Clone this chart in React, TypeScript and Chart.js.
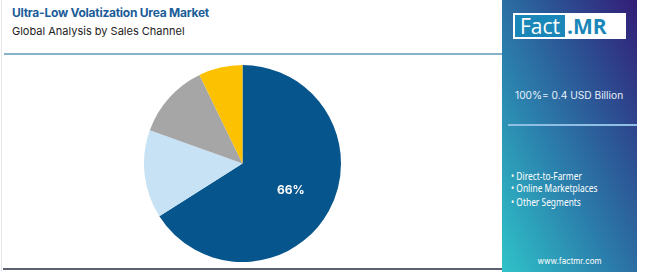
import React, { useEffect, useRef } from "react";
import { Chart, registerables } from "chart.js";

Chart.register(...registerables);

const categories = ["Direct-to-Farmer", "Online Marketplaces", "Other Segments", "Others"];
const shares = [66, 14.5, 12.3, 7.2];
const sliceColors = ["#06558d", "#c6e2f4", "#a6a6a6", "#fcc100"];
const legendItems = ["Direct-to-Farmer", "Online Marketplaces", "Other Segments"];
const titleText = "Ultra-Low Volatization Urea Market";
const subtitleText = "Global Analysis by Sales Channel";
const totalText = "100%= 0.4 USD Billion";
const siteText = "www.factmr.com";
const labelThreshold = 20;

const labelPlugin = {
  id: "sliceLabels",
  afterDatasetsDraw(chart: any) {
    const ctx = chart.ctx;
    const meta = chart.getDatasetMeta(0);
    const data = chart.data.datasets[0].data as number[];
    meta.data.forEach((arc: any, i: number) => {
      if (data[i] < labelThreshold) return;
      const p = arc.getProps(["x", "y", "startAngle", "endAngle", "outerRadius"], true);
      const mid = (p.startAngle + p.endAngle) / 2;
      const r = p.outerRadius * 0.56;
      ctx.save();
      ctx.fillStyle = "#ffffff";
      ctx.font = "bold 12px Inter, 'Open Sans', sans-serif";
      ctx.textAlign = "center";
      ctx.textBaseline = "middle";
      ctx.fillText(Math.round(data[i]) + "%", p.x + Math.cos(mid) * r, p.y + Math.sin(mid) * r);
      ctx.restore();
    });
  },
};

function PieChart() {
  const ref = useRef<HTMLCanvasElement | null>(null);
  useEffect(() => {
    if (!ref.current) return;
    const chart = new Chart(ref.current, {
      type: "pie",
      data: {
        labels: categories,
        datasets: [
          {
            data: shares,
            backgroundColor: sliceColors,
            borderWidth: 0,
          },
        ],
      },
      options: {
        animation: false,
        responsive: false,
        layout: { padding: 0 },
        plugins: { legend: { display: false }, tooltip: { enabled: false } },
      },
      plugins: [labelPlugin],
    });
    return () => chart.destroy();
  }, []);
  return (
    <canvas
      ref={ref}
      width={197}
      height={197}
      style={{ position: "absolute", left: 144, top: 65, width: 197, height: 197 }}
    />
  );
}

export default function App() {
  useEffect(() => {
    document.body.style.margin = "0";
  }, []);
  const font = "Inter, 'Open Sans', sans-serif";
  return (
    <div
      style={{
        position: "absolute",
        left: 0,
        top: 0,
        width: 650,
        height: 272,
        background: "#ffffff",
        overflow: "hidden",
        fontFamily: font,
      }}
    >
      <div style={{ position: "absolute", left: 1, top: 0, width: 1, height: 272, background: "#e4e6ea" }} />
      <div
        style={{
          position: "absolute",
          left: 12,
          top: 5,
          fontSize: 12,
          fontWeight: 700,
          color: "#1b5d99",
          whiteSpace: "nowrap",
          letterSpacing: -0.25,
        }}
      >
        {titleText}
      </div>
      <div
        style={{
          position: "absolute",
          left: 12,
          top: 24,
          fontSize: 11,
          color: "#222222",
          whiteSpace: "nowrap",
        }}
      >
        {subtitleText}
      </div>
      <div style={{ position: "absolute", left: 4, top: 53, width: 499, height: 2, background: "#86b3c9" }} />
      <div style={{ position: "absolute", left: 3, top: 268, width: 500, height: 2, background: "#5a6270" }} />
      <PieChart />
      <div
        style={{
          position: "absolute",
          left: 502,
          top: 0,
          width: 135,
          height: 272,
          background: "linear-gradient(to top right, #2fc3c9 0%, #2b7fac 40%, #2c4f92 70%, #331d77 100%)",
        }}
      />
      <div
        style={{
          position: "absolute",
          left: 513,
          top: 13,
          width: 113,
          height: 26,
          background: "#ffffff",
        }}
      />
      <div
        style={{
          position: "absolute",
          left: 515,
          top: 15,
          width: 50,
          height: 22,
          background: "#1b86b8",
          color: "#ffffff",
          fontFamily: "'Open Sans', sans-serif",
          fontSize: 21,
          lineHeight: "22px",
          textAlign: "center",
        }}
      >
        Fact
      </div>
      <div
        style={{
          position: "absolute",
          left: 567,
          top: 15,
          height: 22,
          color: "#1b86b8",
          fontFamily: "'Open Sans', sans-serif",
          fontWeight: 700,
          fontSize: 21,
          lineHeight: "22px",
        }}
      >
        .MR
      </div>
      <div
        style={{
          position: "absolute",
          left: 515,
          top: 89,
          fontSize: 10.2,
          color: "#e8f0fb",
          whiteSpace: "nowrap",
        }}
      >
        {totalText}
      </div>
      <div style={{ position: "absolute", left: 508, top: 124, width: 129, height: 2, background: "#8fc0e4" }} />
      <div
        style={{
          position: "absolute",
          left: 511,
          top: 170,
          color: "#ffffff",
          fontSize: 10.5,
          fontFamily: "'Noto Sans', sans-serif",
          transform: "scaleX(0.8)",
          transformOrigin: "left top",
        }}
      >
        {legendItems.map((t, i) => (
          <div key={t} style={{ lineHeight: "12px", marginBottom: i === 1 ? 2 : 0, whiteSpace: "nowrap" }}>
            • {t}
          </div>
        ))}
      </div>
      <div
        style={{
          position: "absolute",
          left: 502,
          width: 135,
          top: 256,
          textAlign: "center",
          fontSize: 8,
          color: "#ffffff",
        }}
      >
        {siteText}
      </div>
    </div>
  );
}
